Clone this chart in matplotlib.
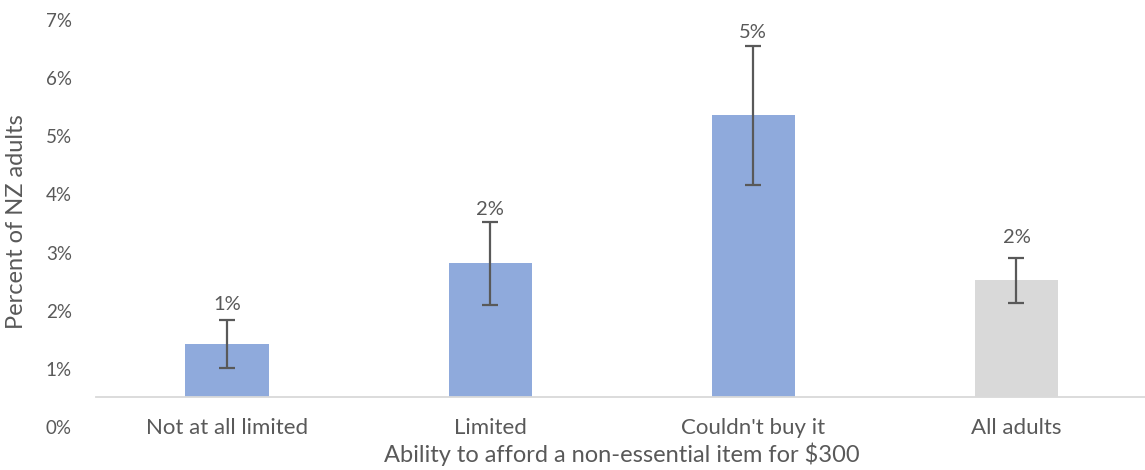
#!/usr/bin/env python3
"""Share of NZ adults by ability to afford a non-essential item."""

import matplotlib
matplotlib.use("Agg")
import matplotlib.pyplot as plt
from matplotlib.transforms import ScaledTranslation
import numpy as np

categories = ["Not at all limited", "Limited", "Couldn't buy it", "All adults"]
values = [0.91, 2.31, 4.85, 2.01]          # percent
err_low = [0.50, 1.58, 3.65, 1.62]
err_high = [1.33, 3.01, 6.04, 2.39]
value_labels = ["1%", "2%", "5%", "2%"]
y_ticks = [0, 1, 2, 3, 4, 5, 6, 7]
y_tick_labels = [f"{t}%" for t in y_ticks]

BLUE = "#8FAADC"
GREY = "#D9D9D9"
TEXT = "#595959"

plt.rcParams["font.family"] = ["Lato", "DejaVu Sans"]

fig = plt.figure(figsize=(11.45, 4.70), dpi=100)
ax = fig.add_axes([95.5 / 1145, 73 / 470, 1052.5 / 1145, 407 / 470])

x = np.arange(len(categories))
colors = [BLUE, BLUE, BLUE, GREY]
vals = np.array(values)
yerr = np.array([vals - np.array(err_low), np.array(err_high) - vals])
ax.bar(x, vals, width=0.316, color=colors, zorder=2)
ax.errorbar(x, vals, yerr=yerr, fmt="none", ecolor=TEXT, elinewidth=1.6,
            capsize=6, capthick=1.6, zorder=3)

label_offsets = [15, 12, 13, 21]
for xi, hi, lab, off in zip(x, err_high, value_labels, label_offsets):
    ax.annotate(lab, (xi, hi), xytext=(0, off * 0.72), textcoords="offset points",
                ha="center", va="center", fontsize=14.5, color=TEXT)

ax.set_xlim(-0.5, len(categories) - 0.5)
ax.set_ylim(0, 7)
ax.set_xticks(x)
ax.set_xticklabels(categories, fontsize=16, color=TEXT)
ax.set_yticks(y_ticks)
ax.set_yticklabels(y_tick_labels, fontsize=13.5, color=TEXT)
ax.tick_params(axis="both", length=0)
ax.tick_params(axis="y", pad=17)
ax.tick_params(axis="x", pad=15)

# the value-axis labels sit about 30 px below their gridline positions
shift = ScaledTranslation(0, -0.30, fig.dpi_scale_trans)
for lab in ax.get_yticklabels():
    lab.set_transform(lab.get_transform() + shift)

for side in ("top", "right", "left"):
    ax.spines[side].set_visible(False)
ax.spines["bottom"].set_color(GREY)
ax.spines["bottom"].set_linewidth(1.3)

ax.set_xlabel("Ability to afford a non-essential item for $300", fontsize=17,
              color=TEXT, labelpad=3)
ax.set_ylabel("Percent of NZ adults", fontsize=17, color=TEXT)
ax.yaxis.set_label_coords(-0.0655, 0.43)

fig.savefig("out.png", dpi=100)
